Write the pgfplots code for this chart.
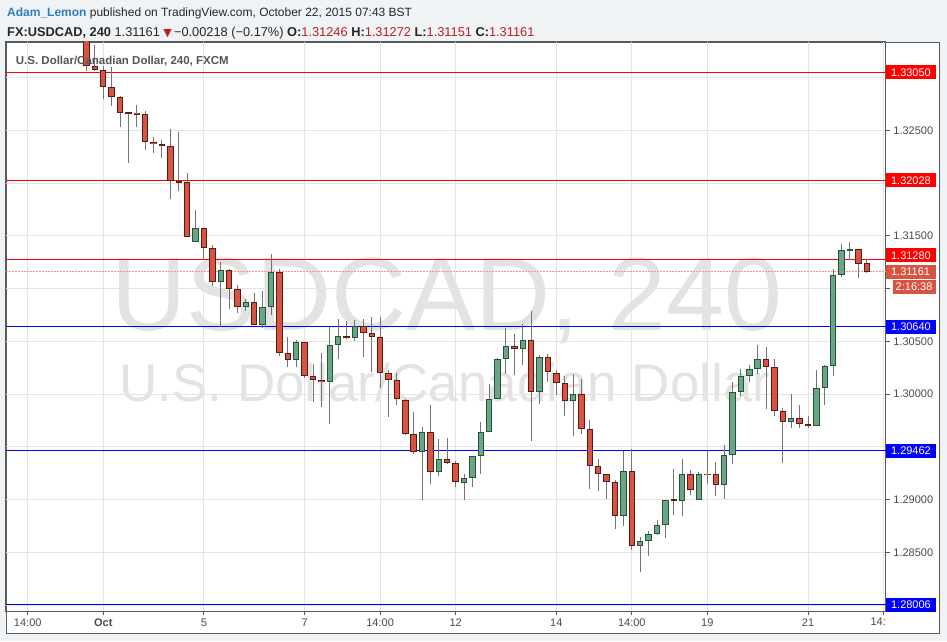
\documentclass[border=0pt]{standalone}
\usepackage{pgfplots}
\pgfplotsset{compat=1.18}
\usepackage{pgfplotstable}
\usepackage{fontspec}
\setmainfont{Liberation Sans}
\newfontfamily\djv{DejaVu Sans}
\definecolor{bg}{RGB}{240,243,246}
\definecolor{frame}{RGB}{90,90,90}
\definecolor{gridc}{RGB}{228,228,228}
\definecolor{upfill}{RGB}{107,165,131}
\definecolor{upline}{RGB}{34,84,55}
\definecolor{dnfill}{RGB}{215,84,66}
\definecolor{dnline}{RGB}{91,26,19}
\definecolor{wick}{RGB}{115,115,117}
\definecolor{wm}{RGB}{227,227,227}
\definecolor{lblred}{RGB}{255,0,0}
\definecolor{lblblue}{RGB}{0,0,255}
\definecolor{cur}{RGB}{215,84,66}
\definecolor{curline}{RGB}{240,150,140}
\definecolor{txt}{RGB}{74,74,74}
\definecolor{ttl}{RGB}{85,85,85}
\definecolor{author}{RGB}{45,126,192}
\definecolor{hdrred}{RGB}{190,30,30}

\pgfplotstableread{
x o h l c
0 1.33420 1.33500 1.33062 1.33114
1 1.33114 1.33315 1.33062 1.33078
2 1.33078 1.33114 1.32797 1.32914
3 1.32914 1.33104 1.32730 1.32822
4 1.32822 1.32832 1.32529 1.32668
5 1.32677 1.32677 1.32194 1.32658
6 1.32662 1.32747 1.32535 1.32653
7 1.32658 1.32687 1.32313 1.32393
8 1.32393 1.32440 1.32292 1.32370
9 1.32374 1.32415 1.32244 1.32355
10 1.32355 1.32510 1.31849 1.32023
11 1.32024 1.32484 1.31925 1.32005
12 1.32014 1.32102 1.31492 1.31492
14 1.31578 1.31578 1.31270 1.31388
15 1.31388 1.31419 1.31024 1.31066
17 1.31176 1.31192 1.30806 1.30995
18 1.30995 1.31033 1.30772 1.30829
20 1.30876 1.30961 1.30654 1.30654
23 1.31160 1.31192 1.30360 1.30392
24 1.30392 1.30544 1.30260 1.30322
26 1.30497 1.30497 1.30155 1.30174
27 1.30174 1.30291 1.29928 1.30133
28 1.30139 1.30395 1.29880 1.30117
31 1.30554 1.30696 1.30521 1.30535
33 1.30648 1.30711 1.30354 1.30582
34 1.30582 1.30734 1.30212 1.30547
35 1.30544 1.30734 1.30060 1.30203
36 1.30203 1.30227 1.29786 1.30136
37 1.30136 1.30206 1.29896 1.29950
38 1.29950 1.29959 1.29611 1.29621
39 1.29624 1.29833 1.29431 1.29454
41 1.29643 1.29902 1.29150 1.29264
43 1.29387 1.29589 1.29336 1.29346
44 1.29349 1.29368 1.29118 1.29163
51 1.30459 1.30566 1.30180 1.30430
53 1.30516 1.30793 1.29554 1.30023
55 1.30354 1.30386 1.30117 1.30206
56 1.30206 1.30227 1.29990 1.30108
57 1.30108 1.30171 1.29795 1.29937
59 1.30004 1.30149 1.29621 1.29672
60 1.29672 1.29760 1.29099 1.29321
61 1.29321 1.29384 1.29080 1.29245
62 1.29241 1.29241 1.29011 1.29169
63 1.29169 1.29184 1.28720 1.28847
65 1.29274 1.29478 1.28521 1.28563
70 1.29004 1.29295 1.28853 1.28985
72 1.29241 1.29279 1.29042 1.29090
74 1.29245 1.29459 1.29147 1.29236
75 1.29241 1.29359 1.29037 1.29141
81 1.30338 1.30449 1.29864 1.30260
82 1.30260 1.30329 1.29791 1.29843
83 1.29843 1.29874 1.29349 1.29738
85 1.29776 1.29893 1.29675 1.29715
86 1.29719 1.29795 1.29681 1.29700
92 1.31378 1.31378 1.31103 1.31236
93 1.31246 1.31272 1.31151 1.31161
}\down

\pgfplotstableread{
x o h l c
13 1.31445 1.31742 1.31445 1.31578
16 1.31066 1.31255 1.30639 1.31176
19 1.30829 1.30901 1.30793 1.30876
21 1.30654 1.30976 1.30632 1.30829
22 1.30829 1.31334 1.30749 1.31160
25 1.30329 1.30518 1.30260 1.30497
29 1.30117 1.30639 1.29715 1.30471
30 1.30471 1.30711 1.30332 1.30554
32 1.30537 1.30708 1.30506 1.30648
40 1.29454 1.29691 1.28995 1.29643
42 1.29264 1.29580 1.29222 1.29387
45 1.29160 1.29239 1.28995 1.29207
46 1.29207 1.29416 1.29118 1.29416
47 1.29416 1.29738 1.29241 1.29643
48 1.29643 1.30101 1.29643 1.29959
49 1.29959 1.30345 1.29959 1.30338
50 1.30336 1.30623 1.30187 1.30459
52 1.30430 1.30664 1.30275 1.30516
54 1.30023 1.30370 1.29912 1.30354
58 1.29937 1.30196 1.29604 1.30000
64 1.28847 1.29463 1.28748 1.29274
66 1.28563 1.28648 1.28316 1.28610
67 1.28610 1.28701 1.28468 1.28676
68 1.28676 1.28812 1.28663 1.28764
69 1.28764 1.28995 1.28638 1.28995
71 1.28989 1.29381 1.28847 1.29241
73 1.29000 1.29264 1.28995 1.29241
76 1.29141 1.29523 1.29004 1.29422
77 1.29422 1.30117 1.29343 1.30023
78 1.30023 1.30244 1.29981 1.30174
79 1.30174 1.30275 1.30117 1.30244
80 1.30244 1.30471 1.30190 1.30338
84 1.29738 1.30007 1.29684 1.29776
87 1.29700 1.30234 1.29700 1.30060
88 1.30060 1.30275 1.29896 1.30269
89 1.30269 1.31192 1.30171 1.31132
90 1.31132 1.31422 1.31109 1.31369
91 1.31362 1.31445 1.31270 1.31381
}\up

\pgfplotsset{
  wickplot/.style={draw=none, mark=none,
    error bars/.cd, y dir=both, y explicit,
    draw error bar/.code 2 args={\draw[wick, line width=1pt] ##1 -- ##2;}},
  dnbody/.style={draw=none, mark=none,
    error bars/.cd, y dir=both, y explicit,
    draw error bar/.code 2 args={\draw[dnline, line width=6.4pt] ##1 -- ##2; \draw[dnfill, line width=4.4pt, shorten >=1pt] ##1 -- ##2;}},
  upbody/.style={draw=none, mark=none,
    error bars/.cd, y dir=both, y explicit,
    draw error bar/.code 2 args={\draw[upline, line width=6.4pt] ##1 -- ##2; \draw[upfill, line width=4.4pt, shorten >=1pt] ##1 -- ##2;}},
}
\tikzset{
  lbl/.style={anchor=west, text=white, inner xsep=5pt, inner ysep=0pt,
    minimum height=14pt, text width=40pt, align=left, text height=7.9pt, text depth=0pt,
    font=\fontsize{11}{11}\selectfont},
}

\begin{document}
\begin{tikzpicture}[x=1pt,y=1pt]
\useasboundingbox (0,0) rectangle (947,641);
\fill[bg] (0,0) rectangle (947,641);
\filldraw[fill=white, draw=frame, line width=1pt] (6.5,7.5) rectangle (939.5,598.5);
% header
\node[anchor=base west, inner sep=0pt, font=\fontsize{12}{14}\selectfont, text=black!85] at (7,624.2)
  {\textcolor{author}{\bfseries Adam\_Lemon} published on TradingView.com, October 22, 2015 07:43 BST};
\node[anchor=base west, inner sep=0pt, font=\fontsize{12.8}{14}\selectfont, text=black!85] at (7,604.2)
  {\textbf{FX:USDCAD, 240} 1.31161 {\djv\fontsize{11}{12}\selectfont\textcolor{hdrred}{▼}}\,−0.00218 (−0.17\%) \textbf{O:}\textcolor{hdrred}{1.31246} \textbf{H:}\textcolor{hdrred}{1.31272} \textbf{L:}\textcolor{hdrred}{1.31151} \textbf{C:}\textcolor{hdrred}{1.31161}};
% watermark
\node[anchor=base, inner sep=0pt, text=wm, font=\fontsize{104}{104}\selectfont] at (447,311) {USDCAD, 240};
\node[anchor=base, inner sep=0pt, text=wm, font=\fontsize{53}{53}\selectfont] at (445,239.3) {U.S. Dollar/Canadian Dollar};

\begin{axis}[
  at={(7,28)}, anchor=south west, scale only axis, width=880pt, height=570pt,
  xmin=-9.607, xmax=95.28, ymin=1.27940, ymax=1.33344,
  axis line style={draw=frame, line width=1pt},
  xtick={-7,2,14,26,35,44,56,65,74,86,95},
  xticklabels={14:00,\textbf{Oct},5,7,14:00,12,14,14:00,19,21,{}},
  ytick={1.28,1.285,1.29,1.295,1.30,1.305,1.31,1.315,1.32,1.325,1.33},
  yticklabels={{},1.28500,1.29000,{},1.30000,1.30500,{},1.31500,{},1.32500,{}},
  yticklabel pos=right, ytick pos=right, xtick pos=bottom,
  tick align=outside, major tick length=4pt,
  tick style={draw=frame, line width=1pt},
  grid=major, grid style={draw=gridc, line width=1pt},
  scaled y ticks=false,
  yticklabel style={font=\fontsize{11}{11}\selectfont, text=txt},
  xticklabel style={font=\fontsize{11}{11}\selectfont, text=txt},
]
% level lines
\addplot[draw=lblred, line width=1pt] coordinates {(-9.607,1.33050) (95.28,1.33050)};
\addplot[draw=lblred, line width=1pt] coordinates {(-9.607,1.32028) (95.28,1.32028)};
\addplot[draw=lblred, line width=1pt] coordinates {(-9.607,1.31280) (95.28,1.31280)};
\addplot[draw=lblblue, line width=1pt] coordinates {(-9.607,1.30640) (95.28,1.30640)};
\addplot[draw=lblblue, line width=1pt] coordinates {(-9.607,1.29462) (95.28,1.29462)};
\addplot[draw=lblblue, line width=1pt] coordinates {(-9.607,1.28006) (95.28,1.28006)};
\addplot[draw=curline, line width=1pt, dash pattern=on 2pt off 1pt] coordinates {(-9.607,1.31161) (95.28,1.31161)};
% wicks
\addplot[wickplot] table[x=x, y expr={(\thisrow{h}+\thisrow{l})/2}, y error expr={(\thisrow{h}-\thisrow{l})/2}] {\down};
\addplot[wickplot] table[x=x, y expr={(\thisrow{h}+\thisrow{l})/2}, y error expr={(\thisrow{h}-\thisrow{l})/2}] {\up};
% bodies
\addplot[dnbody] table[x=x, y expr={(\thisrow{o}+\thisrow{c})/2}, y error expr={abs(\thisrow{c}-\thisrow{o})/2}] {\down};
\addplot[upbody] table[x=x, y expr={(\thisrow{o}+\thisrow{c})/2}, y error expr={abs(\thisrow{c}-\thisrow{o})/2}] {\up};
\coordinate (pA) at (axis cs:95.28,1.33050);
\coordinate (pB) at (axis cs:95.28,1.32028);
\coordinate (pC) at (axis cs:95.28,1.31280);
\coordinate (pD) at (axis cs:95.28,1.30640);
\coordinate (pE) at (axis cs:95.28,1.29462);
\coordinate (pF) at (axis cs:95.28,1.28006);
\coordinate (pG) at (axis cs:95.28,1.31161);
\end{axis}
% price labels
\node[lbl, fill=cur] at ([yshift=-0.3pt]pG) {1.31161};
\node[lbl, fill=cur, text width=43pt, inner xsep=0pt, align=center] at ([xshift=6.5pt,yshift=-15.3pt]pG) {2:16:38};
\node[lbl, fill=lblred] at (pA) {1.33050};
\node[lbl, fill=lblred] at (pB) {1.32028};
\node[lbl, fill=lblred] at ([yshift=3.7pt]pC) {1.31280};
\node[lbl, fill=lblblue] at (pD) {1.30640};
\node[lbl, fill=lblblue] at (pE) {1.29462};
\node[lbl, fill=lblblue] at (pF) {1.28006};
% clipped last time label
\node[anchor=base east, inner sep=0pt, text=txt, font=\fontsize{11}{11}\selectfont] at (886,15.4) {14:};
% chart title
\node[anchor=base west, inner sep=0pt, text=ttl, font=\bfseries\fontsize{11.5}{12}\selectfont] at (15.7,576.7) {U.S. Dollar/Canadian Dollar, 240, FXCM};
\end{tikzpicture}
\end{document}
